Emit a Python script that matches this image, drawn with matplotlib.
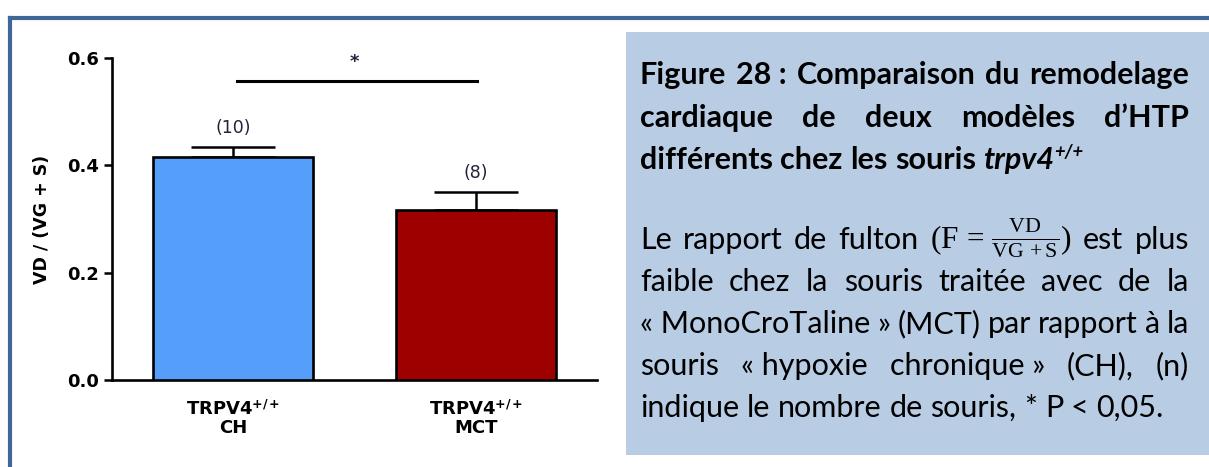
import matplotlib
matplotlib.use("Agg")
import matplotlib.pyplot as plt
from matplotlib.lines import Line2D
from matplotlib.patches import Rectangle

# données
groupes = ["TRPV4$^{\\mathbf{+/+}}$\nCH", "TRPV4$^{\\mathbf{+/+}}$\nMCT"]
moyennes = [0.415, 0.317]
erreurs = [0.019, 0.033]
effectifs = ["(10)", "(8)"]
couleurs = ["#559ffa", "#9e0000"]
y_ticks = [0.0, 0.2, 0.4, 0.6]
signif_y = 0.557

plt.rcParams["mathtext.fontset"] = "custom"
plt.rcParams["mathtext.rm"] = "Liberation Serif"
plt.rcParams["mathtext.it"] = "Liberation Serif:italic"
plt.rcParams["mathtext.bf"] = "DejaVu Sans:bold"

W, H = 1209, 467
fig = plt.figure(figsize=(W / 100, H / 100), dpi=100)

# cadre bleu (haut et gauche)
cadre = "#41679a"
fig.add_artist(Line2D([10 / W, 1.0], [(H - 18) / H] * 2, color=cadre, lw=3.0))
fig.add_artist(Line2D([10 / W] * 2, [0.0, (H - 18) / H], color=cadre, lw=3.0))

# --- graphique en barres ---
ax = fig.add_axes([112 / W, (H - 380) / H, (597 - 112) / W, (380 - 58) / H])
x = [0, 1]
ax.bar(x, moyennes, width=0.66, color=couleurs, edgecolor="black", linewidth=1.9, zorder=3)
ax.errorbar(x, moyennes, yerr=[[0, 0], erreurs], fmt="none", ecolor="black",
            elinewidth=1.8, capsize=30, capthick=1.8, zorder=2)
for xi, m, e, n in zip(x, moyennes, erreurs, effectifs):
    ax.text(xi, m + e + 0.036, n, ha="center", va="center", fontsize=12.5,
            color="#22223a", family="DejaVu Sans")

# barre de significativité
ax.plot([0.017, 1.004], [signif_y, signif_y], color="black", lw=2.2, clip_on=False)
ax.text(0.5, signif_y + 0.036, "*", ha="center", va="center", fontsize=13,
        fontweight="bold", color="#22223a", clip_on=False)

ax.set_xlim(-0.5, 1.5)
ax.set_ylim(0, 0.6)
ax.set_yticks(y_ticks)
ax.set_yticklabels([f"{v:.1f}" for v in y_ticks], fontsize=13, fontweight="bold")
ax.set_xticks(x)
ax.set_xticklabels(groupes, fontsize=13, fontweight="bold", linespacing=1.0)
ax.tick_params(axis="x", length=0, pad=14)
ax.tick_params(axis="y", length=6, width=1.8, direction="out", pad=3)
ax.spines["top"].set_visible(False)
ax.spines["right"].set_visible(False)
ax.spines["left"].set_linewidth(1.9)
ax.spines["bottom"].set_linewidth(1.9)
ax.set_ylabel("VD / (VG + S)", fontsize=12.5, fontweight="bold", labelpad=12)

# --- encadré de légende ---
fig.add_artist(Rectangle((626 / W, (H - 455) / H), 1.0 - 626 / W, (455 - 32) / H,
                         transform=fig.transFigure, facecolor="#b8cce4",
                         edgecolor="none", zorder=0))

renderer = fig.canvas.get_renderer()
X0, X1 = 640, 1189
police = "Lato"
taille = 22
gras = dict(family=police, fontsize=taille, fontweight="bold", color="black")
normal = dict(family=police, fontsize=taille, color="black")


def largeur(t):
    return t.get_window_extent(renderer).width


def ligne(mots, y, justifie=True):
    groupes_t = []
    total = 0
    for mot in mots:
        morceaux = []
        for s, props, dy in mot:
            t = fig.text(0, 0, s, ha="left", va="baseline", **props)
            morceaux.append((t, dy, largeur(t)))
        total += sum(m[2] for m in morceaux)
        groupes_t.append(morceaux)
    if justifie and len(mots) > 1:
        ecart = (X1 - X0 - total) / (len(mots) - 1)
    else:
        p = mots[0][0][1]
        a = fig.text(0, 0, "a a", **p)
        b = fig.text(0, 0, "aa", **p)
        ecart = largeur(a) - largeur(b)
        a.remove()
        b.remove()
    xp = X0
    for morceaux in groupes_t:
        for t, dy, w in morceaux:
            t.set_position((xp / W, (H - y + dy) / H))
            xp += w
        xp += ecart


def simple(phrase, props):
    return [[(m, props, 0)] for m in phrase]


ligne(simple(["Figure", "28 :", "Comparaison", "du", "remodelage"], gras), 84)
ligne(simple(["cardiaque", "de", "deux", "modèles", "d’HTP"], gras), 127)
gras_it = dict(gras, style="italic")
exp_it = dict(gras_it, fontsize=taille * 0.6)
ligne([[("différents", gras, 0)], [("chez", gras, 0)], [("les", gras, 0)],
       [("souris", gras, 0)], [("trpv4", gras_it, 0), ("+/+", exp_it, 11)]],
      169, justifie=False)

formule = dict(fontsize=22.5, color="black")
ligne([[("Le", normal, 0)], [("rapport", normal, 0)], [("de", normal, 0)],
       [("fulton", normal, 0)],
       [(r"$(\mathrm{F}\,=\,\frac{\mathrm{VD}}{\mathrm{VG}\,+\mathrm{S}})$", formule, 0)],
       [("est", normal, 0)], [("plus", normal, 0)]], 249)
ligne(simple(["faible", "chez", "la", "souris", "traitée", "avec", "de", "la"], normal), 291)
ligne(simple(["« MonoCroTaline »", "(MCT)", "par", "rapport", "à", "la"], normal), 333)
ligne(simple(["souris", "« hypoxie", "chronique »", "(CH),", "(n)"], normal), 375)
ligne(simple(["indique", "le", "nombre", "de", "souris,", "*", "P", "<", "0,05."], normal),
      417, justifie=False)

fig.savefig("out.png", dpi=100)
